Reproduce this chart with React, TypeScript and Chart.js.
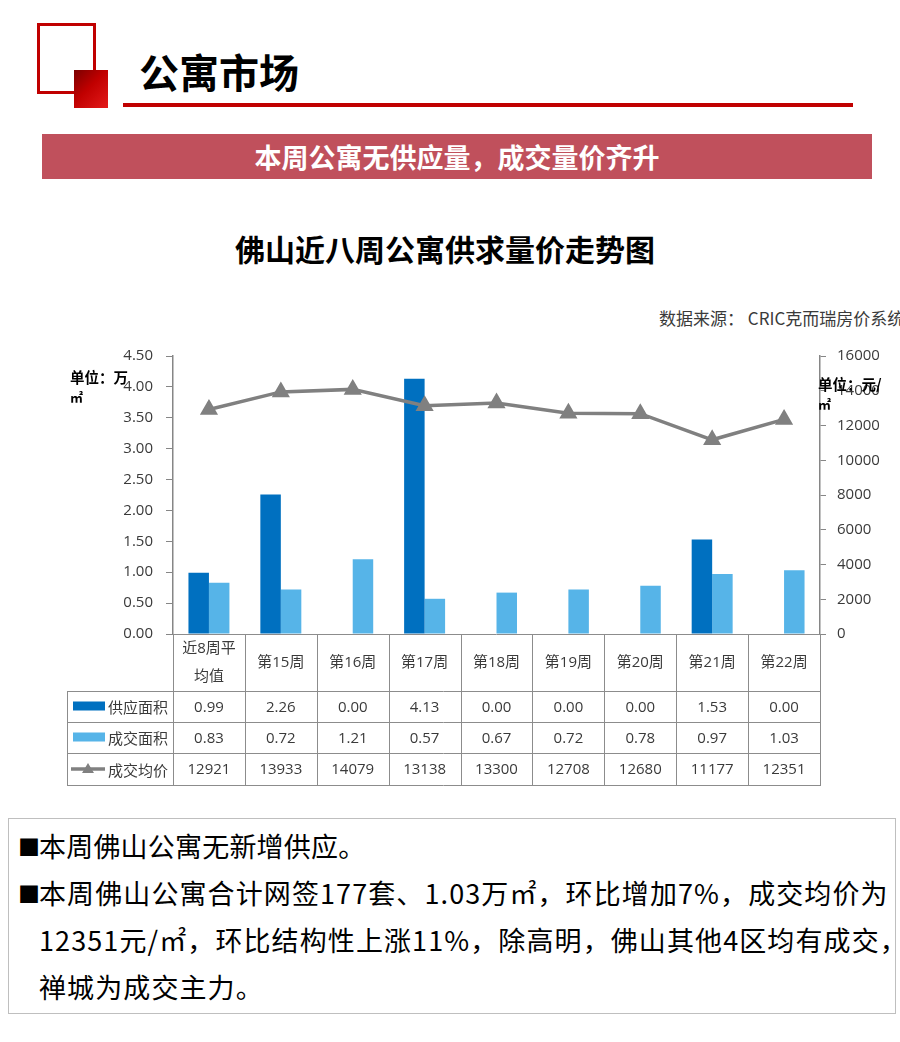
import React, { useEffect, useRef } from "react";
import { Chart, registerables } from "chart.js";

Chart.register(...registerables);

// ---------- data ----------
const categories: (string | string[])[] = [
  ["近8周平", "均值"],
  "第15周",
  "第16周",
  "第17周",
  "第18周",
  "第19周",
  "第20周",
  "第21周",
  "第22周",
];
const seriesNames = ["供应面积", "成交面积", "成交均价"];
const supplyArea = [0.99, 2.26, 0.0, 4.13, 0.0, 0.0, 0.0, 1.53, 0.0];
const dealArea = [0.83, 0.72, 1.21, 0.57, 0.67, 0.72, 0.78, 0.97, 1.03];
const avgPrice = [12921, 13933, 14079, 13138, 13300, 12708, 12680, 11177, 12351];

const areaAxisMin = 0;
const areaAxisMax = 4.5;
const areaAxisStep = 0.5;
const priceAxisMin = 0;
const priceAxisMax = 16000;
const priceAxisStep = 2000;

const DARK_BLUE = "#0070C0";
const LIGHT_BLUE = "#56B4E8";
const GRAY_LINE = "#808080";
const AXIS_GRAY = "#868686";
const TEXT = "#3a3a3a";
const FONT = '"Open Sans", "Noto Sans CJK SC", sans-serif';
const CJK = '"Noto Sans CJK SC", sans-serif';

const tablePlugin = {
  id: "dataTable",
  afterDraw(chart: any) {
    const { ctx, chartArea } = chart;
    const n = categories.length;
    const colW = (chartArea.right - chartArea.left) / n;
    const left0 = 67;
    const y0 = Math.round(chartArea.bottom);
    const y1 = y0 + 57;
    const y2 = y1 + 31;
    const y3 = y2 + 31;
    const y4 = y3 + 32;
    const L = Math.round(chartArea.left);
    const R = Math.round(chartArea.right);

    ctx.save();
    ctx.strokeStyle = "#8c8c8c";
    ctx.lineWidth = 1;
    ctx.beginPath();
    ctx.moveTo(L, y0 + 0.5);
    ctx.lineTo(R, y0 + 0.5);
    [y1, y2, y3, y4].forEach((y) => {
      ctx.moveTo(left0, y + 0.5);
      ctx.lineTo(R, y + 0.5);
    });
    for (let i = 0; i <= n; i++) {
      const x = Math.round(chartArea.left + i * colW) + 0.5;
      ctx.moveTo(x, y0);
      ctx.lineTo(x, y4 + 1);
    }
    ctx.moveTo(left0 + 0.5, y1);
    ctx.lineTo(left0 + 0.5, y4 + 1);
    ctx.stroke();

    ctx.fillStyle = TEXT;
    ctx.font = `15px ${FONT}`;
    ctx.textAlign = "center";
    ctx.textBaseline = "middle";
    const xs = chart.scales.x;
    categories.forEach((c, i) => {
      const cx = xs.getPixelForValue(i);
      const lines = Array.isArray(c) ? c : [c];
      const cy = (y0 + y1) / 2;
      const lh = 28;
      lines.forEach((t, k) => {
        ctx.fillText(t, cx, cy + (k - (lines.length - 1) / 2) * lh);
      });
      ctx.fillText(supplyArea[i].toFixed(2), cx, (y1 + y2) / 2 + 1);
      ctx.fillText(dealArea[i].toFixed(2), cx, (y2 + y3) / 2 + 1);
      ctx.fillText(String(avgPrice[i]), cx, (y3 + y4) / 2 + 1);
    });

    // legend keys
    const rows = [(y1 + y2) / 2, (y2 + y3) / 2, (y3 + y4) / 2];
    ctx.fillStyle = DARK_BLUE;
    ctx.fillRect(73, rows[0] - 5, 32, 9);
    ctx.fillStyle = LIGHT_BLUE;
    ctx.fillRect(73, rows[1] - 5, 32, 9);
    ctx.strokeStyle = GRAY_LINE;
    ctx.lineWidth = 3.5;
    ctx.beginPath();
    ctx.moveTo(71, rows[2]);
    ctx.lineTo(105, rows[2]);
    ctx.stroke();
    ctx.fillStyle = GRAY_LINE;
    ctx.beginPath();
    ctx.moveTo(88, rows[2] - 6);
    ctx.lineTo(94, rows[2] + 4);
    ctx.lineTo(82, rows[2] + 4);
    ctx.closePath();
    ctx.fill();

    ctx.fillStyle = TEXT;
    ctx.textAlign = "left";
    ctx.font = `15px ${CJK}`;
    seriesNames.forEach((s, k) => ctx.fillText(s, 108, rows[k] + 1));
    ctx.restore();
  },
};

function ChartBox() {
  const ref = useRef<HTMLCanvasElement | null>(null);
  useEffect(() => {
    if (!ref.current) return;
    const chart = new Chart(ref.current, {
      type: "bar",
      data: {
        labels: categories as any,
        datasets: [
          {
            type: "line",
            label: seriesNames[2],
            data: avgPrice,
            yAxisID: "y1",
            borderColor: GRAY_LINE,
            backgroundColor: GRAY_LINE,
            borderWidth: 3.5,
            pointStyle: "triangle",
            pointRadius: 7,
            pointBackgroundColor: GRAY_LINE,
            pointBorderColor: GRAY_LINE,
            order: 0,
          } as any,
          {
            type: "bar",
            label: seriesNames[0],
            data: supplyArea,
            yAxisID: "y",
            backgroundColor: DARK_BLUE,
            categoryPercentage: 0.57,
            barPercentage: 1.0,
            order: 1,
          },
          {
            type: "bar",
            label: seriesNames[1],
            data: dealArea,
            yAxisID: "y",
            backgroundColor: LIGHT_BLUE,
            categoryPercentage: 0.57,
            barPercentage: 1.0,
            order: 1,
          },
        ],
      },
      options: {
        animation: false,
        responsive: false,
        devicePixelRatio: 1,
        layout: { padding: { top: 16, bottom: 166, left: 0, right: 0 } },
        plugins: { legend: { display: false }, tooltip: { enabled: false } },
        scales: {
          x: { type: "category", display: false, offset: true },
          y: {
            position: "left",
            min: areaAxisMin,
            max: areaAxisMax,
            ticks: {
              stepSize: areaAxisStep,
              callback: (v: any) => Number(v).toFixed(2),
              font: { size: 15, family: FONT },
              color: TEXT,
              padding: 13,
            },
            grid: { drawOnChartArea: false, drawTicks: true, tickLength: 7, color: AXIS_GRAY },
            border: { display: true, color: AXIS_GRAY, width: 1.5 },
            afterFit: (s: any) => {
              s.width = 173;
              s.paddingTop = 0;
              s.paddingBottom = 0;
            },
          },
          y1: {
            position: "right",
            min: priceAxisMin,
            max: priceAxisMax,
            ticks: {
              stepSize: priceAxisStep,
              callback: (v: any) => String(Math.round(Number(v))),
              font: { size: 15, family: FONT },
              color: TEXT,
              padding: 11,
            },
            grid: { drawOnChartArea: false, drawTicks: true, tickLength: 6, color: AXIS_GRAY },
            border: { display: true, color: AXIS_GRAY, width: 1.5 },
            afterFit: (s: any) => {
              s.width = 80;
              s.paddingTop = 0;
              s.paddingBottom = 0;
            },
          },
        },
      } as any,
      plugins: [tablePlugin],
    });
    return () => chart.destroy();
  }, []);
  return <canvas ref={ref} width={900} height={460} style={{ position: "absolute", left: 0, top: 340, width: 900, height: 460 }} />;
}

export default function App() {
  const abs = (s: React.CSSProperties): React.CSSProperties => ({ position: "absolute", ...s });
  return (
    <div style={{ position: "absolute", left: 0, top: 0, width: 900, height: 1042, background: "#fff", overflow: "hidden", fontFamily: CJK }}>
      {/* header icon */}
      <div style={abs({ left: 37, top: 23, width: 59, height: 71, border: "3px solid #C00000", boxSizing: "border-box" })} />
      <div style={abs({ left: 74, top: 70, width: 34, height: 38, background: "linear-gradient(135deg, #7a0000 0%, #c00000 45%, #e41a1a 100%)" })} />
      <div style={abs({ left: 139, top: 46, fontSize: 40, fontWeight: 700, color: "#000", lineHeight: "50px", whiteSpace: "nowrap" })}>公寓市场</div>
      <div style={abs({ left: 123, top: 103, width: 730, height: 4, background: "#C00000" })} />
      {/* banner */}
      <div style={abs({ left: 42, top: 134, width: 830, height: 45, background: "#C0505C", color: "#fff", fontSize: 27, fontWeight: 700, lineHeight: "45px", textAlign: "center", whiteSpace: "nowrap" })}>
        本周公寓无供应量，成交量价齐升
      </div>
      {/* chart title */}
      <div style={abs({ left: 0, top: 229, width: 890, fontSize: 30, fontWeight: 700, color: "#000", lineHeight: "38px", textAlign: "center", whiteSpace: "nowrap" })}>
        佛山近八周公寓供求量价走势图
      </div>
      <div style={abs({ left: 659, top: 306, fontSize: 17, color: TEXT, lineHeight: "24px", whiteSpace: "nowrap" })}>数据来源：&nbsp;CRIC克而瑞房价系统</div>

      <ChartBox />

      {/* unit labels */}
      <div style={abs({ left: 70, top: 367, fontSize: 14.5, fontWeight: 700, color: "#000", lineHeight: "19px", whiteSpace: "nowrap" })}>
        单位：万<br />
        <span style={{ fontSize: 13 }}>㎡</span>
      </div>
      <div style={abs({ left: 818, top: 374, fontSize: 14.5, fontWeight: 700, color: "#000", lineHeight: "19px", whiteSpace: "nowrap" })}>
        单位：元/<br />
        <span style={{ fontSize: 13 }}>㎡</span>
      </div>

      {/* text box */}
      <div style={abs({ left: 8, top: 818, width: 888, height: 196, border: "1px solid #bfbfbf", boxSizing: "border-box", fontSize: 27, color: "#000", lineHeight: "47px", paddingTop: 3 })}>
        <div style={{ display: "flex" }}>
          <span style={{ width: 30, paddingLeft: 9, boxSizing: "border-box", fontSize: 22, flexShrink: 0 }}>■</span>
          <span style={{ whiteSpace: "nowrap", letterSpacing: 0.2 }}>本周佛山公寓无新增供应。</span>
        </div>
        <div style={{ display: "flex" }}>
          <span style={{ width: 30, paddingLeft: 9, boxSizing: "border-box", fontSize: 22, flexShrink: 0 }}>■</span>
          <span style={{ whiteSpace: "nowrap", letterSpacing: 1.1 }}>
            本周佛山公寓合计网签177套、1.03万㎡，环比增加7%，成交均价为
            <br />
            12351元/㎡，环比结构性上涨11%，除高明，佛山其他4区均有成交，
            <br />
            禅城为成交主力。
          </span>
        </div>
      </div>
    </div>
  );
}
